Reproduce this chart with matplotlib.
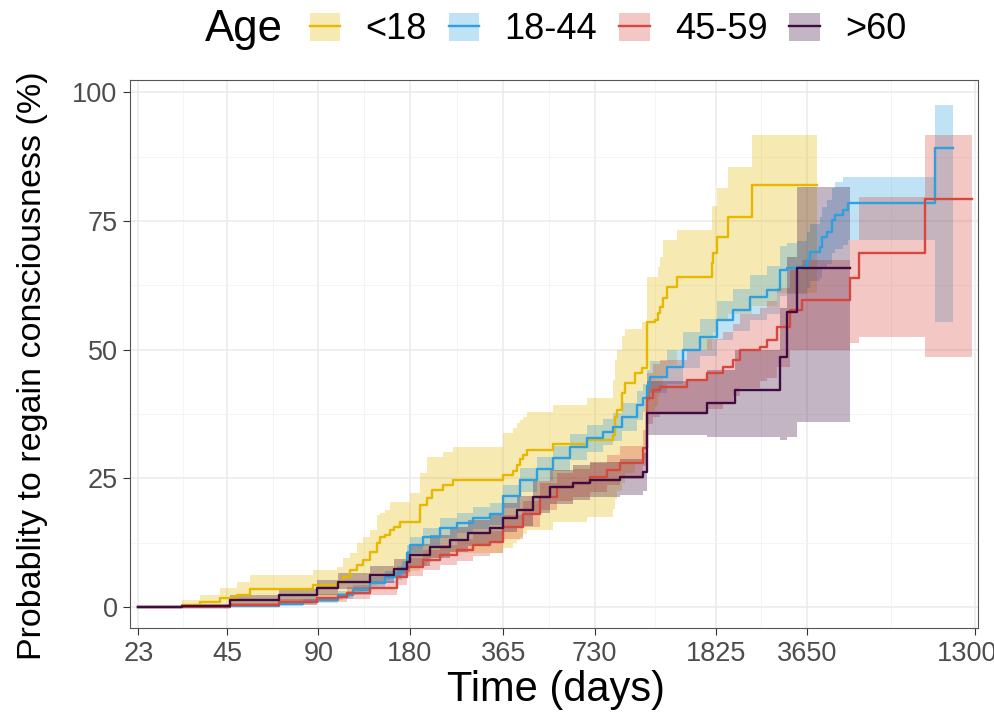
import numpy as np
import matplotlib
matplotlib.use("Agg")
import matplotlib.pyplot as plt
from matplotlib.patches import Patch
from matplotlib.lines import Line2D

plt.rcParams["font.family"] = ["Liberation Sans", "DejaVu Sans"]

# ---- data: step points (days, cumulative %, lower CI, upper CI) ----
t_u18 = [23, 32, 36.7, 42.7, 48.6, 53.6, 86.4, 103.6, 108.4, 114.3, 120.5, 126.1, 133, 140, 143.5,
         149, 154.7, 160, 167, 180, 194, 205, 212.7, 231, 249, 365, 393, 405, 414, 424, 437, 532,
         688, 838, 851, 864, 897, 918, 990, 1044, 1085, 1153, 1179, 1197, 1225, 1262, 1361, 1775,
         1788, 1844, 2003, 2403, 2900, 3932]
e_u18 = [0, 0.4, 1.0, 1.7, 2.3, 3.5, 4.3, 4.9, 5.8, 7.2, 8.2, 9.1, 10.7, 12.4, 13.6,
         14.0, 15.0, 15.5, 16.5, 16.5, 19.8, 21.2, 22.7, 23.7, 24.7, 25.6, 26.4, 27.5, 28.7, 29.5, 30.5, 31.7,
         32.4, 33.4, 36.9, 38.3, 41.6, 43.5, 45.4, 46.4, 55.3, 55.7, 57.1, 58.3, 60.0, 62.1, 64.1, 66.8,
         68.7, 71.8, 75.7, 81.9, 81.9, 81.9]
l_u18 = [0, 0, 0.1, 0.2, 0.3, 0.5, 1.0, 1.4, 1.8, 2.3, 2.8, 3.3, 4.0, 4.5, 5.0,
         5.3, 5.5, 6.0, 6.5, 7.0, 8.0, 8.8, 9.5, 10.0, 10.5, 11.5, 12.5, 13.0, 13.5, 14.2, 15.0, 16.5,
         17.5, 19.0, 21.0, 22.5, 24.0, 26.0, 28.0, 29.0, 38.0, 39.0, 41.0, 42.5, 45.0, 47.0, 50.0, 52.0,
         53.5, 55.5, 57.0, 58.5, 61.0, 61.0]
h_u18 = [0, 1.4, 2.3, 3.7, 4.9, 6.2, 7.2, 7.8, 9.5, 10.5, 12.4, 13.5, 15.0, 17.9, 18.3,
         18.8, 20.4, 20.4, 20.4, 22.1, 26.0, 29.1, 29.1, 30.1, 31.1, 33.8, 34.8, 35.7, 36.3, 36.9, 37.9, 39.2,
         40.6, 44.1, 48.0, 49.9, 52.7, 54.0, 54.0, 55.3, 64.1, 64.1, 66.0, 68.0, 71.3, 71.3, 73.2, 78.0,
         78.0, 81.4, 85.4, 91.7, 91.7, 91.7]

t_18_44 = [23, 46, 67, 80, 89, 104, 117, 133, 149, 163, 170, 176, 180, 199, 226, 257, 290, 330, 365,
           414, 471, 532, 605, 688, 777, 838, 897, 1005, 1052, 1085, 1110, 1262, 1425, 1621, 1844, 2081,
           2367, 2693, 2972, 3133, 3381, 3650, 3728, 4023, 4084, 4242, 4406, 4507, 4789, 4974, 9617, 11020]
e_18_44 = [0, 0.2, 0.6, 1.0, 1.4, 2.3, 3.3, 4.7, 5.8, 6.6, 7.6, 10.5, 12.0, 13.6, 15.3, 16.3, 17.3, 18.0, 21.5,
           24.7, 26.8, 28.9, 31.1, 32.8, 34.0, 35.0, 36.9, 39.2, 40.6, 43.0, 44.7, 46.6, 49.9, 52.4, 55.7, 57.7,
           60.2, 61.6, 65.4, 65.8, 66.0, 67.4, 68.9, 69.9, 71.8, 72.8, 75.1, 76.1, 77.1, 78.4, 89.1, 89.1]
l_18_44 = [0, 0, 0.2, 0.4, 0.8, 1.5, 2.4, 3.6, 4.6, 5.3, 6.3, 9.0, 10.4, 11.8, 13.4, 14.3, 15.2, 15.9, 19.3,
           22.4, 24.5, 26.5, 28.6, 30.2, 31.4, 32.3, 34.2, 36.4, 37.8, 40.0, 41.6, 43.3, 46.4, 48.8, 51.9, 53.6,
           55.8, 57.0, 60.5, 60.8, 60.8, 62.0, 63.3, 64.0, 65.8, 66.6, 68.8, 69.6, 70.4, 71.3, 55.3, 55.3]
h_18_44 = [0, 0.5, 1.0, 1.5, 2.0, 3.1, 4.2, 5.8, 7.0, 7.9, 8.9, 12.0, 13.6, 15.4, 17.2, 18.3, 19.4, 20.1, 23.7,
           27.0, 29.1, 31.3, 33.6, 35.4, 36.6, 37.7, 39.6, 42.0, 43.4, 46.0, 47.8, 49.9, 53.4, 56.0, 59.5, 61.8,
           64.6, 66.2, 70.2, 70.8, 71.2, 72.8, 74.5, 75.8, 77.8, 79.0, 81.4, 82.6, 83.5, 83.5, 97.5, 97.5]

t_45_59 = [23, 46, 67, 89, 104, 112, 133, 163, 176, 199, 226, 257, 290, 330, 365, 424, 482, 548, 619,
           704, 801, 884, 1052, 1085, 1136, 1197, 1469, 1709, 1929, 2081, 2194, 2553, 2693, 2905, 3205,
           3511, 5050, 5408, 8916, 12726]
e_45_59 = [0, 0.4, 1.0, 1.7, 1.9, 2.7, 3.7, 5.8, 7.8, 9.1, 10.1, 11.1, 12.0, 12.6, 15.5, 18.1, 21.4, 23.3, 24.1,
           25.2, 26.6, 28.0, 30.9, 40.6, 42.1, 42.7, 44.1, 45.4, 46.6, 48.0, 49.9, 50.5, 51.8, 54.4, 57.7,
           59.6, 63.9, 68.7, 79.2, 79.2]
l_45_59 = [0, 0, 0.4, 0.9, 1.0, 1.6, 2.4, 4.2, 6.0, 7.2, 8.1, 9.0, 9.8, 10.4, 13.2, 15.6, 18.8, 20.6, 21.4,
           22.4, 23.6, 24.8, 27.4, 35.5, 37.0, 37.5, 37.5, 38.5, 39.5, 41.0, 42.5, 44.0, 44.5, 46.6, 50.0,
           50.0, 51.3, 52.4, 48.5, 48.5]
h_45_59 = [0, 0.8, 1.6, 2.5, 2.8, 3.8, 5.0, 7.4, 9.6, 11.0, 12.1, 13.2, 14.2, 14.8, 17.8, 20.6, 24.0, 26.0, 26.8,
           28.0, 29.6, 31.2, 34.4, 45.5, 47.2, 47.9, 50.0, 52.0, 53.5, 55.0, 57.0, 58.0, 59.5, 62.0, 65.5,
           67.5, 71.3, 79.6, 91.7, 91.7]

t_o60 = [23, 32, 46, 67, 89, 104, 133, 160, 176, 180, 209, 244, 280, 330, 365, 405, 457, 520, 619,
         704, 884, 1052, 1085, 1709, 2113, 2972, 3133, 3381, 5050]
e_o60 = [0, 0.2, 1.4, 2.3, 3.7, 4.9, 6.2, 7.4, 8.7, 10.1, 11.7, 13.0, 14.3, 15.3, 17.3, 18.8, 21.4, 23.3, 24.1,
         24.7, 25.2, 26.2, 37.7, 39.6, 42.1, 48.5, 57.3, 65.8, 65.8]
l_o60 = [0, 0, 0.6, 1.2, 2.4, 3.4, 4.6, 5.6, 6.8, 8.0, 9.5, 10.7, 11.9, 12.8, 14.6, 15.8, 18.3, 20.0, 20.8,
         21.3, 21.7, 22.5, 33.5, 33.0, 33.0, 32.4, 33.0, 36.0, 36.0]
h_o60 = [0, 0.6, 2.4, 3.5, 5.2, 6.6, 8.0, 9.3, 10.8, 12.3, 14.0, 15.5, 16.8, 17.9, 20.2, 21.6, 24.5, 26.6, 27.5,
         28.2, 28.8, 30.0, 44.0, 46.0, 50.0, 58.0, 68.0, 81.7, 81.7]

groups = ["<18", "18-44", "45-59", ">60"]
series = [(t_u18, e_u18, l_u18, h_u18), (t_18_44, e_18_44, l_18_44, h_18_44),
          (t_45_59, e_45_59, l_45_59, h_45_59), (t_o60, e_o60, l_o60, h_o60)]
colors = ["#E7B800", "#2E9FDF", "#D6473D", "#3E0C40"]

x_ticks = [23, 45, 90, 180, 365, 730, 1825, 3650, 13000]
y_ticks = [0, 25, 50, 75, 100]

fig = plt.figure(figsize=(9.95, 7.13), dpi=100)
ax = fig.add_axes([0.1307, 0.1192, 0.8522, 0.7686])

for (t, e, lo, hi), c in zip(series, colors):
    ax.fill_between(t, lo, hi, step="post", color=c, alpha=0.3, lw=0)
for (t, e, lo, hi), c in zip(series, colors):
    ax.step(t, e, where="post", color=c, lw=1.7)

ax.set_xscale("log")
ax.set_xlim(21.6, 13317)
ax.set_ylim(-4.1, 102.4)
ax.set_xticks(x_ticks)
ax.set_xticklabels([str(v) for v in x_ticks])
xt = np.array(x_ticks, float)
ax.set_xticks(np.sqrt(xt[:-1] * xt[1:]), minor=True)
ax.set_yticks(y_ticks)
ax.set_yticks([12.5, 37.5, 62.5, 87.5], minor=True)
ax.xaxis.set_minor_formatter(plt.NullFormatter())

ax.grid(True, which="major", color="#EBEBEB", lw=1.1)
ax.grid(True, which="minor", color="#F2F2F2", lw=0.6)
ax.set_axisbelow(True)
for s in ax.spines.values():
    s.set_color("#555555")
    s.set_linewidth(0.8)
ax.tick_params(which="major", length=5, width=0.8, color="#333333", labelsize=19.5,
               labelcolor="#4D4D4D", pad=4)
ax.tick_params(which="minor", length=0)

ax.set_xlabel("Time (days)", fontsize=30, color="black")
ax.set_ylabel("Probablity to regain consciousness (%)", fontsize=24.5, color="black")
ax.xaxis.set_label_coords(0.502, -0.076)
ax.yaxis.set_label_coords(-0.097, 0.478)

handles = [(Patch(facecolor=c, alpha=0.3, edgecolor="none"), Line2D([], [], color=c, lw=1.7))
           for c in colors]
fig.legend(handles, groups, ncol=4, loc="center", bbox_to_anchor=(0.611, 0.958), frameon=False,
           fontsize=26, handlelength=0.85, handleheight=0.85, handletextpad=0.7, columnspacing=0.6,
           borderaxespad=0, borderpad=0)
fig.text(0.206, 0.958, "Age", fontsize=31.5, va="center", ha="left")

fig.savefig("out.png", dpi=100)
